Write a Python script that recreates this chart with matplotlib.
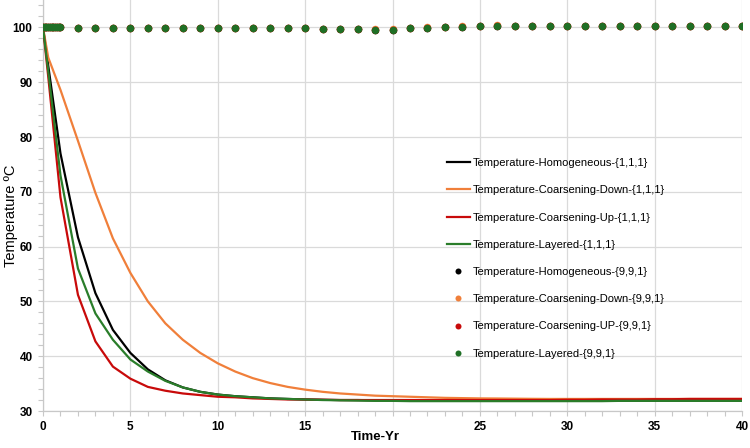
import matplotlib
matplotlib.use("Agg")
import matplotlib.pyplot as plt
from matplotlib.ticker import MultipleLocator

plt.rcParams['font.family'] = ['Liberation Sans', 'DejaVu Sans']

# ---- data ----
t_line = [0, 0.3] + list(range(1, 41))
homog_111 = [100, 93, 77, 61.7, 51.5, 44.8, 40.6, 37.6, 35.6, 34.3, 33.5, 33.0, 32.7, 32.5, 32.3,
             32.2, 32.1, 32.05, 32.0, 32.0, 31.95, 31.95, 31.9, 31.9, 31.9, 31.9, 31.9, 31.9, 31.9,
             31.9, 31.9, 31.9, 31.9, 31.9, 31.9, 31.9, 31.9, 31.9, 31.9, 31.9, 31.9, 31.9]
cdown_111 = [100, 94.5, 88.6, 79.3, 69.8, 61.5, 55.2, 50.0, 46.0, 43.0, 40.6, 38.7, 37.2, 36.0, 35.1,
             34.4, 33.9, 33.5, 33.2, 33.0, 32.8, 32.7, 32.6, 32.5, 32.4, 32.35, 32.3, 32.28, 32.25,
             32.22, 32.2, 32.2, 32.2, 32.2, 32.2, 32.2, 32.2, 32.2, 32.2, 32.2, 32.2, 32.2]
cup_111 = [100, 91, 69, 51.2, 42.7, 38.1, 35.9, 34.4, 33.7, 33.2, 32.9, 32.6, 32.5, 32.3, 32.2,
           32.1, 32.1, 32.05, 32.0, 32.0, 32.0, 32.0, 32.0, 32.0, 32.0, 32.0, 32.0, 32.0, 32.0,
           32.0, 32.0, 32.05, 32.05, 32.1, 32.1, 32.1, 32.15, 32.15, 32.2, 32.2, 32.2, 32.2]
layer_111 = [100, 92, 73, 56.0, 47.8, 43.0, 39.4, 37.2, 35.5, 34.3, 33.5, 33.0, 32.7, 32.5, 32.3,
             32.2, 32.1, 32.0, 31.95, 31.9, 31.85, 31.85, 31.8, 31.8, 31.8, 31.8, 31.8, 31.8, 31.8,
             31.8, 31.8, 31.8, 31.8, 31.8, 31.85, 31.85, 31.85, 31.85, 31.85, 31.85, 31.85, 31.85]

t_dot = [0, 0.1, 0.2, 0.3, 0.4, 0.5, 0.6, 0.7, 0.8, 0.9, 1.0] + list(range(2, 41))
homog_991 = [100.0] * 11 + [99.95, 99.95, 99.95, 99.95, 99.95, 99.95, 99.95, 99.95, 99.95, 99.95,
                            99.85, 99.85, 99.85, 99.85, 99.75, 99.75, 99.75, 99.6, 99.6, 99.8,
                            99.95, 100.05, 100.15, 100.25, 100.3, 100.3, 100.3, 100.3, 100.3, 100.3,
                            100.3, 100.3, 100.3, 100.3, 100.3, 100.3, 100.3, 100.3, 100.3]
cdown_991 = [100.0] * 11 + [99.95, 99.95, 99.95, 99.95, 99.95, 99.95, 99.95, 99.95, 99.95, 99.95,
                            99.85, 99.85, 99.85, 99.85, 99.75, 99.75, 99.75, 99.62, 99.65, 99.85,
                            100.0, 100.1, 100.2, 100.3, 100.35, 100.33, 100.3, 100.3, 100.3, 100.3,
                            100.3, 100.3, 100.3, 100.3, 100.3, 100.3, 100.3, 100.3, 100.3]
cup_991 = [100.0] * 11 + [99.95, 99.95, 99.95, 99.95, 99.95, 99.95, 99.95, 99.95, 99.95, 99.95,
                          99.85, 99.85, 99.85, 99.85, 99.75, 99.75, 99.75, 99.6, 99.6, 99.8,
                          99.95, 100.05, 100.15, 100.25, 100.3, 100.3, 100.3, 100.3, 100.3, 100.3,
                          100.3, 100.3, 100.3, 100.3, 100.3, 100.3, 100.3, 100.3, 100.3]
layer_991 = [100.0] * 11 + [99.95, 99.95, 99.95, 99.95, 99.95, 99.95, 99.95, 99.95, 99.95, 99.95,
                            99.85, 99.85, 99.85, 99.85, 99.75, 99.75, 99.75, 99.6, 99.6, 99.8,
                            99.95, 100.05, 100.15, 100.25, 100.3, 100.3, 100.3, 100.3, 100.3, 100.3,
                            100.3, 100.3, 100.3, 100.3, 100.3, 100.3, 100.3, 100.3, 100.3]

line_labels = ['Temperature-Homogeneous-{1,1,1}', 'Temperature-Coarsening-Down-{1,1,1}',
               'Temperature-Coarsening-Up-{1,1,1}', 'Temperature-Layered-{1,1,1}']
dot_labels = ['Temperature-Homogeneous-{9,9,1}', 'Temperature-Coarsening-Down-{9,9,1}',
              'Temperature-Coarsening-UP-{9,9,1}', 'Temperature-Layered-{9,9,1}']
x_ticks = [0, 5, 10, 15, 20, 25, 30, 35, 40]
# the "20" label is hidden behind the axis title in the reference
x_tick_labels = ['0', '5', '10', '15', '', '25', '30', '35', '40']
y_ticks = [30, 40, 50, 60, 70, 80, 90, 100]

colors = ['#000000', '#F07F3A', '#C80A0A', '#2A7D2A']
dot_colors = ['#000000', '#F07F3A', '#C80A0A', '#1F6F25']

fig = plt.figure(figsize=(7.5, 4.48), dpi=100)
ax = fig.add_axes([43 / 750, 37 / 448, 699 / 750, 411 / 448])

for ys, c, lab in zip([homog_111, cdown_111, cup_111, layer_111], colors, line_labels):
    ax.plot(t_line, ys, color=c, lw=1.6, label=lab, zorder=3)
for ys, c, lab in zip([homog_991, cdown_991, cup_991, layer_991], dot_colors, dot_labels):
    ax.plot(t_dot, ys, linestyle='none', marker='o', markersize=5.4, color=c,
            markeredgewidth=0, label=lab, zorder=4)

ax.set_xlim(0, 40)
ax.set_ylim(30, 105)
ax.set_xticks(x_ticks)
ax.set_xticklabels(x_tick_labels)
ax.set_yticks(y_ticks)
ax.xaxis.set_minor_locator(MultipleLocator(1))
ax.yaxis.set_minor_locator(MultipleLocator(2))
ax.grid(True, which='major', color='#DADADA', lw=0.9, zorder=0)
for s in ['top', 'right']:
    ax.spines[s].set_visible(False)
for s in ['left', 'bottom']:
    ax.spines[s].set_color('#C8C8C8')
    ax.spines[s].set_linewidth(0.9)
ax.tick_params(which='both', direction='out', length=3.5, color='#C8C8C8', width=0.8)
ax.tick_params(which='major', labelsize=8.5, pad=4)
for lbl in ax.get_xticklabels() + ax.get_yticklabels():
    lbl.set_fontweight('bold')

fig.text(375 / 750, 1 - 437 / 448, 'Time-Yr', fontsize=9.5, fontweight='bold',
         ha='center', va='center')
fig.text(11 / 750, 1 - 216 / 448, 'Temperature ºC', fontsize=10.5, rotation=90,
         ha='center', va='center')

leg = fig.legend(loc='upper left', bbox_to_anchor=(0.590, 0.657), frameon=False,
                 fontsize=8, labelspacing=1.55, handlelength=2.07, handletextpad=0.25,
                 borderaxespad=0, markerscale=0.8)

fig.savefig('out.png', dpi=100)
